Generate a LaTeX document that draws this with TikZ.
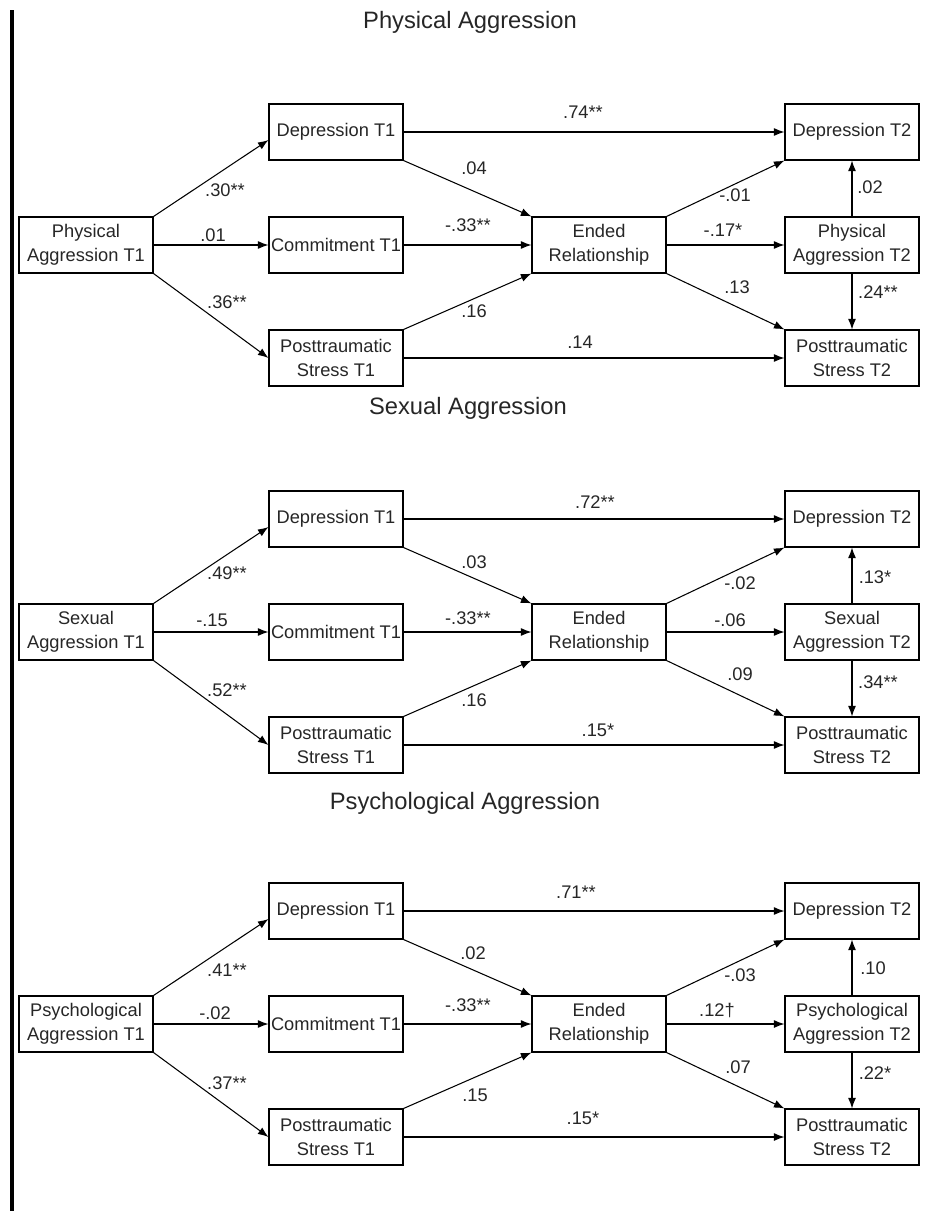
\documentclass[tikz,border=0pt]{standalone}
\usepackage{fontspec}
\setmainfont{Liberation Sans}
\usetikzlibrary{arrows.meta}

\begin{document}
\begin{tikzpicture}[x=0.2mm, y=-0.2mm]
\useasboundingbox (0,0) rectangle (935,1211);

\draw[line width=2.4pt] (12,10) -- (12,1211);

\tikzset{TitleStyle/.style = {font=\fontsize{13.5}{16}\selectfont, text=black!85, inner sep=0pt} }

\tikzset{BoxStyle/.style = {
 draw,
 line width = 0.6pt,
 align = center,
 text = black!85,
 inner sep = 0pt,
 minimum width = 2.68cm,
 minimum height = 1.12cm,
 font = \fontsize{10.4}{13.4}\selectfont} }

\tikzset{WeightStyle/.style = {text=black!85, inner sep=0pt, font=\fontsize{10.4}{12}\selectfont} }

\tikzset{EdgeStyle/.style = {line width=0.6pt, -{Latex[length=6pt, width=4.5pt]}} }


% Physical Aggression
\node[TitleStyle] (Title_1) at (470, 22) {Physical Aggression};
\node[BoxStyle] (Agg1_1) at (86, 245) {Physical\\Aggression T1};
\node[BoxStyle] (Dep1_1) at (336, 132) {Depression T1};
\node[BoxStyle] (Com1_1) at (336, 245) {Commitment T1};
\node[BoxStyle] (Pts1_1) at (336, 358) {Posttraumatic\\Stress T1};
\node[BoxStyle] (End_1) at (599, 245) {Ended\\Relationship};
\node[BoxStyle] (Dep2_1) at (852, 132) {Depression T2};
\node[BoxStyle] (Agg2_1) at (852, 245) {Physical\\Aggression T2};
\node[BoxStyle] (Pts2_1) at (852, 358) {Posttraumatic\\Stress T2};

\draw[EdgeStyle] (Agg1_1.north east) -- ([yshift=-1.6mm]Dep1_1.west);
\draw[EdgeStyle] (Agg1_1) -- (Com1_1);
\draw[EdgeStyle] (Agg1_1.south east) -- (Pts1_1.west);
\draw[EdgeStyle] (Dep1_1) -- (Dep2_1);
\draw[EdgeStyle] (Dep1_1.south east) -- (End_1.north west);
\draw[EdgeStyle] (Com1_1) -- (End_1);
\draw[EdgeStyle] (Pts1_1.north east) -- (End_1.south west);
\draw[EdgeStyle] (Pts1_1) -- (Pts2_1);
\draw[EdgeStyle] (End_1.north east) -- (Dep2_1.south west);
\draw[EdgeStyle] (End_1) -- (Agg2_1);
\draw[EdgeStyle] (End_1.south east) -- (Pts2_1.north west);
\draw[EdgeStyle] (Agg2_1) -- (Dep2_1);
\draw[EdgeStyle] (Agg2_1) -- (Pts2_1);

\node[WeightStyle] (W1_1) at (225, 190) {.30**};
\node[WeightStyle] (W2_1) at (213, 235) {.01};
\node[WeightStyle] (W3_1) at (227, 302) {.36**};
\node[WeightStyle] (W4_1) at (583, 112) {.74**};
\node[WeightStyle] (W5_1) at (474, 168) {.04};
\node[WeightStyle] (W6_1) at (468, 225) {-.33**};
\node[WeightStyle] (W7_1) at (474, 311) {.16};
\node[WeightStyle] (W8_1) at (580, 342) {.14};
\node[WeightStyle] (W9_1) at (735, 195) {-.01};
\node[WeightStyle] (W10_1) at (723, 230) {-.17*};
\node[WeightStyle] (W11_1) at (737, 287) {.13};
\node[WeightStyle] (W12_1) at (870, 187) {.02};
\node[WeightStyle] (W13_1) at (878, 292) {.24**};


% Sexual Aggression
\node[TitleStyle] (Title_2) at (468, 408) {Sexual Aggression};
\node[BoxStyle] (Agg1_2) at (86, 632) {Sexual\\Aggression T1};
\node[BoxStyle] (Dep1_2) at (336, 519) {Depression T1};
\node[BoxStyle] (Com1_2) at (336, 632) {Commitment T1};
\node[BoxStyle] (Pts1_2) at (336, 745) {Posttraumatic\\Stress T1};
\node[BoxStyle] (End_2) at (599, 632) {Ended\\Relationship};
\node[BoxStyle] (Dep2_2) at (852, 519) {Depression T2};
\node[BoxStyle] (Agg2_2) at (852, 632) {Sexual\\Aggression T2};
\node[BoxStyle] (Pts2_2) at (852, 745) {Posttraumatic\\Stress T2};

\draw[EdgeStyle] (Agg1_2.north east) -- ([yshift=-1.6mm]Dep1_2.west);
\draw[EdgeStyle] (Agg1_2) -- (Com1_2);
\draw[EdgeStyle] (Agg1_2.south east) -- (Pts1_2.west);
\draw[EdgeStyle] (Dep1_2) -- (Dep2_2);
\draw[EdgeStyle] (Dep1_2.south east) -- (End_2.north west);
\draw[EdgeStyle] (Com1_2) -- (End_2);
\draw[EdgeStyle] (Pts1_2.north east) -- (End_2.south west);
\draw[EdgeStyle] (Pts1_2) -- (Pts2_2);
\draw[EdgeStyle] (End_2.north east) -- (Dep2_2.south west);
\draw[EdgeStyle] (End_2) -- (Agg2_2);
\draw[EdgeStyle] (End_2.south east) -- (Pts2_2.north west);
\draw[EdgeStyle] (Agg2_2) -- (Dep2_2);
\draw[EdgeStyle] (Agg2_2) -- (Pts2_2);

\node[WeightStyle] (W1_2) at (227, 573) {.49**};
\node[WeightStyle] (W2_2) at (212, 620) {-.15};
\node[WeightStyle] (W3_2) at (227, 690) {.52**};
\node[WeightStyle] (W4_2) at (595, 502) {.72**};
\node[WeightStyle] (W5_2) at (474, 562) {.03};
\node[WeightStyle] (W6_2) at (468, 618) {-.33**};
\node[WeightStyle] (W7_2) at (474, 700) {.16};
\node[WeightStyle] (W8_2) at (598, 730) {.15*};
\node[WeightStyle] (W9_2) at (740, 583) {-.02};
\node[WeightStyle] (W10_2) at (730, 620) {-.06};
\node[WeightStyle] (W11_2) at (740, 674) {.09};
\node[WeightStyle] (W12_2) at (875, 577) {.13*};
\node[WeightStyle] (W13_2) at (878, 682) {.34**};


% Psychological Aggression
\node[TitleStyle] (Title_3) at (465, 803) {Psychological Aggression};
\node[BoxStyle] (Agg1_3) at (86, 1024) {Psychological\\Aggression T1};
\node[BoxStyle] (Dep1_3) at (336, 911) {Depression T1};
\node[BoxStyle] (Com1_3) at (336, 1024) {Commitment T1};
\node[BoxStyle] (Pts1_3) at (336, 1137) {Posttraumatic\\Stress T1};
\node[BoxStyle] (End_3) at (599, 1024) {Ended\\Relationship};
\node[BoxStyle] (Dep2_3) at (852, 911) {Depression T2};
\node[BoxStyle] (Agg2_3) at (852, 1024) {Psychological\\Aggression T2};
\node[BoxStyle] (Pts2_3) at (852, 1137) {Posttraumatic\\Stress T2};

\draw[EdgeStyle] (Agg1_3.north east) -- ([yshift=-1.6mm]Dep1_3.west);
\draw[EdgeStyle] (Agg1_3) -- (Com1_3);
\draw[EdgeStyle] (Agg1_3.south east) -- (Pts1_3.west);
\draw[EdgeStyle] (Dep1_3) -- (Dep2_3);
\draw[EdgeStyle] (Dep1_3.south east) -- (End_3.north west);
\draw[EdgeStyle] (Com1_3) -- (End_3);
\draw[EdgeStyle] (Pts1_3.north east) -- (End_3.south west);
\draw[EdgeStyle] (Pts1_3) -- (Pts2_3);
\draw[EdgeStyle] (End_3.north east) -- (Dep2_3.south west);
\draw[EdgeStyle] (End_3) -- (Agg2_3);
\draw[EdgeStyle] (End_3.south east) -- (Pts2_3.north west);
\draw[EdgeStyle] (Agg2_3) -- (Dep2_3);
\draw[EdgeStyle] (Agg2_3) -- (Pts2_3);

\node[WeightStyle] (W1_3) at (227, 970) {.41**};
\node[WeightStyle] (W2_3) at (215, 1013) {-.02};
\node[WeightStyle] (W3_3) at (227, 1083) {.37**};
\node[WeightStyle] (W4_3) at (576, 892) {.71**};
\node[WeightStyle] (W5_3) at (473, 953) {.02};
\node[WeightStyle] (W6_3) at (468, 1005) {-.33**};
\node[WeightStyle] (W7_3) at (475, 1095) {.15};
\node[WeightStyle] (W8_3) at (583, 1118) {.15*};
\node[WeightStyle] (W9_3) at (740, 975) {-.03};
\node[WeightStyle] (W10_3) at (717, 1010) {.12†};
\node[WeightStyle] (W11_3) at (738, 1067) {.07};
\node[WeightStyle] (W12_3) at (873, 968) {.10};
\node[WeightStyle] (W13_3) at (875, 1073) {.22*};

\end{tikzpicture}
\end{document}
